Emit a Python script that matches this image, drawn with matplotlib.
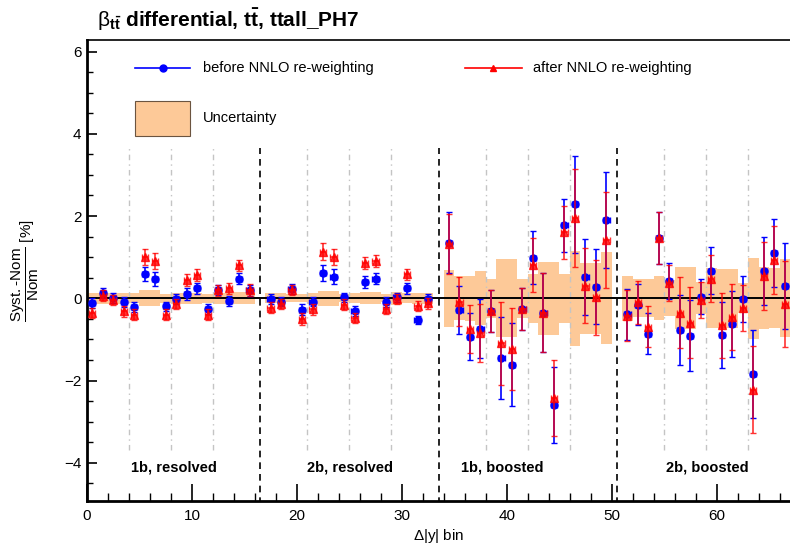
import numpy as np
import matplotlib
matplotlib.use("Agg")
import matplotlib.pyplot as plt
from matplotlib.lines import Line2D
from matplotlib.patches import Rectangle

plt.rcParams["font.family"] = ["Liberation Sans", "DejaVu Sans"]
plt.rcParams["mathtext.fontset"] = "custom"
plt.rcParams["mathtext.rm"] = "Liberation Sans"
plt.rcParams["mathtext.it"] = "Liberation Sans:italic"
plt.rcParams["mathtext.bf"] = "Liberation Sans:bold"

# Bin indices of the four analysis regions (one empty bin between regions)
region_starts = [0, 17, 34, 51]
bins_per_region = 16
region_names = ["1b, resolved", "2b, resolved", "1b, boosted", "2b, boosted"]
region_label_x = [8.3, 25.1, 39.6, 59.1]
region_dividers = [16.5, 33.5, 50.5]
sub_dividers = [4, 8, 12, 21, 25, 29, 38, 42, 46, 55, 59, 63]

# Relative deviation (Syst.-Nom)/Nom in %, before NNLO re-weighting
before = [
    -0.12, 0.12, 0.00, -0.10, -0.22, 0.58, 0.48, -0.20, -0.02, 0.10, 0.24, -0.27, 0.20, -0.06, 0.48, 0.19,
    -0.02, -0.08, 0.22, -0.28, -0.08, 0.62, 0.52, 0.02, -0.32, 0.40, 0.48, -0.10, 0.02, 0.24, -0.52, -0.02,
    1.35, -0.28, -0.93, -0.74, -0.31, -1.45, -1.62, -0.26, 0.99, -0.35, -2.59, 1.77, 2.28, 0.52, 0.28, 1.91,
    -0.39, -0.16, -0.86, 1.47, 0.42, -0.77, -0.91, 0.04, 0.67, -0.89, -0.63, -0.02, -1.84, 0.67, 1.10, 0.30,
]
before_err = [
    0.12, 0.12, 0.12, 0.12, 0.12, 0.17, 0.17, 0.12, 0.12, 0.14, 0.14, 0.12, 0.12, 0.12, 0.14, 0.14,
    0.12, 0.12, 0.12, 0.13, 0.12, 0.19, 0.18, 0.12, 0.12, 0.14, 0.14, 0.12, 0.12, 0.13, 0.10, 0.12,
    0.74, 0.59, 0.58, 0.72, 0.51, 1.00, 1.01, 0.50, 0.65, 0.96, 0.92, 0.65, 1.19, 0.92, 0.91, 1.17,
    0.62, 0.50, 0.50, 0.63, 0.44, 0.86, 0.86, 0.42, 0.57, 0.80, 0.80, 0.56, 1.06, 0.83, 0.82, 1.05,
]

# Relative deviation after NNLO re-weighting
after = [
    -0.36, 0.06, -0.04, -0.32, -0.40, 1.00, 0.90, -0.40, -0.14, 0.44, 0.56, -0.40, 0.19, 0.24, 0.80, 0.20,
    -0.23, -0.14, 0.20, -0.50, -0.27, 1.13, 1.00, -0.16, -0.48, 0.85, 0.90, -0.26, -0.02, 0.58, -0.19, -0.12,
    1.31, -0.08, -0.75, -0.85, -0.32, -1.09, -1.23, -0.26, 0.81, -0.35, -2.43, 1.60, 1.95, 0.31, 0.02, 1.41,
    -0.42, -0.10, -0.69, 1.47, 0.38, -0.35, -0.59, -0.04, 0.48, -0.66, -0.46, -0.24, -2.22, 0.54, 0.93, -0.14,
]
after_err = [
    0.12, 0.13, 0.13, 0.13, 0.13, 0.20, 0.20, 0.13, 0.13, 0.15, 0.15, 0.13, 0.13, 0.13, 0.14, 0.14,
    0.13, 0.13, 0.13, 0.14, 0.13, 0.21, 0.20, 0.13, 0.13, 0.15, 0.15, 0.13, 0.13, 0.14, 0.12, 0.13,
    0.73, 0.60, 0.59, 0.71, 0.51, 1.01, 1.00, 0.50, 0.66, 0.96, 0.93, 0.65, 1.19, 0.92, 0.92, 1.17,
    0.62, 0.52, 0.49, 0.63, 0.44, 0.87, 0.87, 0.43, 0.58, 0.80, 0.80, 0.56, 1.06, 0.83, 0.83, 1.05,
]

# Half-width of the uncertainty band per bin
band = [
    0.14, 0.14, 0.14, 0.14, 0.12, 0.20, 0.20, 0.11, 0.13, 0.13, 0.14, 0.11, 0.13, 0.13, 0.15, 0.15,
    0.12, 0.12, 0.10, 0.10, 0.13, 0.18, 0.18, 0.10, 0.12, 0.15, 0.15, 0.10, 0.16, 0.12, 0.14, 0.14,
    0.69, 0.54, 0.55, 0.66, 0.47, 0.95, 0.95, 0.47, 0.60, 0.89, 0.89, 0.60, 1.15, 0.86, 0.86, 1.12,
    0.55, 0.46, 0.46, 0.54, 0.44, 0.75, 0.75, 0.39, 0.73, 0.72, 0.72, 0.36, 0.98, 0.75, 0.73, 0.95,
]

bins = np.concatenate([np.arange(s, s + bins_per_region) for s in region_starts])
centers = bins + 0.5
before = np.array(before)
after = np.array(after)
band = np.array(band)

W, H = 790, 547
fig = plt.figure(figsize=(W / 100, H / 100), dpi=100)
ax = fig.add_axes([87 / W, 1 - 501 / H, 1 - 87 / W, (501 - 40) / H])

band_color = "#fdc998"
ax.bar(centers, 2 * band, bottom=-band, width=1.0, color=band_color,
       linewidth=0, zorder=1)

ax.axhline(0, color="black", lw=1.4, zorder=2)

for xv in sub_dividers:
    ax.plot([xv, xv], [-3.7, 3.7], color="#c4c4c4", lw=1.0,
            dashes=(4, 3, 1, 3), zorder=1.5)
for xv in region_dividers:
    ax.plot([xv, xv], [-5.0, 3.65], color="black", lw=1.2,
            dashes=(4, 3), zorder=1.5)

ax.errorbar(centers, before, yerr=before_err, xerr=0.3, fmt="o", color="#0000ff",
            ms=5, elinewidth=1.2, capsize=2, capthick=1.0, zorder=3)
ax.errorbar(centers, after, yerr=after_err, xerr=0.3, fmt="^", color="#ff0000",
            ms=5.5, elinewidth=1.2, capsize=2, capthick=1.0, alpha=0.8, zorder=4)

for name, xv in zip(region_names, region_label_x):
    ax.text(xv, -4.12, name, ha="center", va="center", fontsize=10.5,
            fontweight="bold")

ax.set_xlim(0, 67)
ax.set_ylim(-4.93, 6.28)
ax.set_xticks(np.arange(0, 61, 10))
ax.set_xticks(np.arange(0, 67, 2), minor=True)
ax.set_yticks(np.arange(-4, 7, 2))
ax.set_yticks(np.arange(-4.5, 6.3, 0.5), minor=True)
ax.yaxis.set_major_formatter(matplotlib.ticker.FuncFormatter(
    lambda v, p: f"{v:.0f}".replace("-", "\u2212")))
ax.tick_params(axis="both", which="both", direction="in", labelsize=11)
ax.tick_params(axis="x", which="major", length=12, width=1.2, pad=6)
ax.tick_params(axis="x", which="minor", length=6, width=1.0)
ax.tick_params(axis="y", which="major", length=7, width=1.2, pad=4)
ax.tick_params(axis="y", which="minor", length=4, width=1.0)
ax.spines["left"].set_linewidth(2.0)
ax.spines["bottom"].set_linewidth(2.0)
ax.spines["top"].set_linewidth(1.2)
ax.spines["right"].set_visible(False)

ax.set_xlabel(r"$\Delta$|y| bin", fontsize=11)
ax.xaxis.set_label_coords(0.5, -0.056)
ax.set_ylabel(r"$\dfrac{\mathrm{Syst.\text{-}Nom}}{\mathrm{Nom}}$ [%]", fontsize=11)
ax.yaxis.set_label_coords(-0.066, 0.5)

fig.text(97 / W, 1 - 27 / H,
         r"$\mathrm{β}_{\mathbf{t\bar{t}}}$ differential, $\mathbf{t\bar{t}}$, ttall_PH7",
         fontsize=15, fontweight="bold", ha="left", va="baseline")

# Legend entries
ly = 1 - 68 / H
fig.add_artist(Line2D([135 / W, 190 / W], [ly, ly], color="#0000ff", lw=1.2))
fig.add_artist(Line2D([163 / W], [ly], color="#0000ff", marker="o", ms=5))
fig.text(203 / W, ly, "before NNLO re-weighting", fontsize=10.5, va="center")
fig.add_artist(Line2D([465 / W, 522 / W], [ly, ly], color="#ff0000", lw=1.2))
fig.add_artist(Line2D([493 / W], [ly], color="#ff0000", marker="^", ms=5))
fig.text(533 / W, ly, "after NNLO re-weighting", fontsize=10.5, va="center")
fig.add_artist(Rectangle((135 / W, 1 - 136 / H), 55 / W, 35 / H,
                         facecolor=band_color, edgecolor="#6b5440", lw=0.8))
fig.text(203 / W, 1 - 118 / H, "Uncertainty", fontsize=10.5, va="center")

fig.savefig("out.png", dpi=100)
